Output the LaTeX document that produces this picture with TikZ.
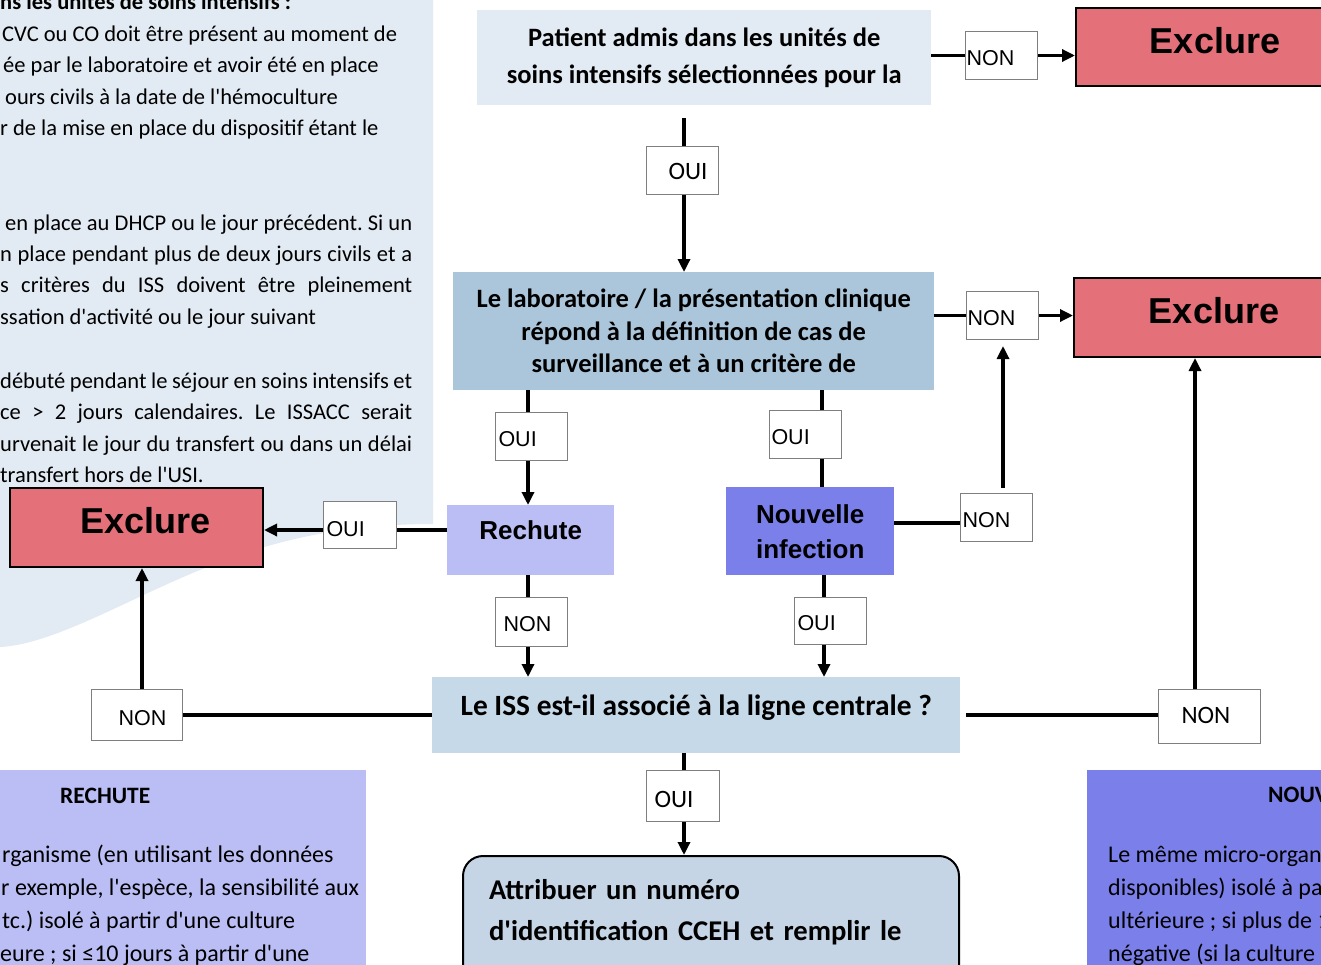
\documentclass[tikz,border=0pt]{standalone}
\usepackage{fontspec}
\setmainfont{Carlito}[Ligatures=TeXOff]
\newfontfamily\arialfont{Liberation Sans}
\frenchspacing
\usetikzlibrary{arrows.meta}
\definecolor{panelbg}{HTML}{E2EAF3}
\definecolor{qlight}{HTML}{E2EAF3}
\definecolor{qmid}{HTML}{ABC6DB}
\definecolor{qiss}{HTML}{C6D9E8}
\definecolor{qfinal}{HTML}{C5D5E6}
\definecolor{exclred}{HTML}{E4707A}
\definecolor{rechfill}{HTML}{BBBEF5}
\definecolor{nouvfill}{HTML}{7B7FEA}
\definecolor{taggray}{HTML}{7F7F7F}
\tikzset{
  flownode/.style = {anchor=north west, inner sep=0pt, align=center},
  QNode/.style = {flownode, font=\bfseries\fontsize{26.5}{32.5}\selectfont},
  ExclNode/.style = {flownode, draw=black, line width=2pt, fill=exclred, text depth=14pt, font=\arialfont\bfseries\fontsize{36}{36}\selectfont},
  CaseNode/.style = {flownode, font=\arialfont\bfseries\fontsize{26}{35}\selectfont},
  TagNode/.style = {flownode, draw=taggray, line width=1pt, fill=white, inner xsep=1pt, align=left, text height=19pt, text depth=0pt, font=\arialfont\fontsize{21.5}{21.5}\selectfont},
  CTagNode/.style = {TagNode, text height=18pt, font=\fontsize{25}{25}\selectfont},
  PanelText/.style = {inner sep=0pt, anchor=base west, font=\fontsize{22.5}{22.5}\selectfont},
  PanelTextL/.style = {PanelText, font=\fontsize{24}{24}\selectfont},
  PanelHead/.style = {PanelText, font=\bfseries\fontsize{23.5}{23.5}\selectfont},
  conn/.style = {line width=3.2pt}
}
\begin{document}
\begin{tikzpicture}[x=1pt, y=-1pt, >={Triangle[length=13pt,width=12pt]}]
\useasboundingbox (0,0) rectangle (1321,964);
\clip (0,0) rectangle (1321,964);
% background panels
\fill[panelbg] (0,0) -- (433,0) -- (433,524) .. controls (300,524) and (220,560) .. (150,592)
  .. controls (90,620) and (40,645) .. (0,647) -- cycle;
\fill[rechfill] (0,770) rectangle (366,1000);
\fill[nouvfill] (1087,770) rectangle (1400,1000);

% text of the left panel
\node[PanelText] (lt0) at (0,9) {\bfseries ns les unités de soins intensifs :};
\node[PanelText] (lt1) at (2,41) {CVC ou CO doit être présent au moment de};
\node[PanelText] (lt2) at (3,72.5) {ée par le laboratoire et avoir été en place};
\node[PanelText] (lt3) at (5,104) {ours civils à la date de l'hémoculture};
\node[PanelText] (lt4) at (0,135.5) {r de la mise en place du dispositif étant le};
\node[PanelText] (lt5) at (5,230) {\makebox[407pt][s]{en place au DHCP ou le jour précédent. Si un}};
\node[PanelText] (lt6) at (0,261) {\makebox[412pt][s]{n place pendant plus de deux jours civils et a}};
\node[PanelText] (lt7) at (0,292.5) {\makebox[412pt][s]{s critères du ISS doivent être pleinement}};
\node[PanelText] (lt8) at (0,324) {ssation d'activité ou le jour suivant};
\node[PanelText] (lt9) at (0,388) {\makebox[412pt][s]{débuté pendant le séjour en soins intensifs et}};
\node[PanelText] (lt10) at (0,419.5) {\makebox[412pt][s]{ce > 2 jours calendaires. Le ISSACC serait}};
\node[PanelText] (lt11) at (0,451) {\makebox[412pt][s]{urvenait le jour du transfert ou dans un délai}};
\node[PanelText] (lt12) at (0,482) {transfert hors de l'USI.};

% bottom panels
\node[PanelHead] (rt0) at (60,803) {RECHUTE};
\node[PanelTextL] (rt1) at (2,862) {rganisme (en utilisant les données};
\node[PanelTextL] (rt2) at (1,895) {r exemple, l'espèce, la sensibilité aux};
\node[PanelTextL] (rt3) at (2,928) {tc.) isolé à partir d'une culture};
\node[PanelTextL] (rt4) at (0,961) {eure ; si ≤10 jours à partir d'une};
\node[PanelHead] (nt0) at (1268,802) {NOUV};
\node[PanelTextL] (nt1) at (1108,862) {Le même micro-organ};
\node[PanelTextL] (nt2) at (1108,895) {disponibles) isolé à pa};
\node[PanelTextL] (nt3) at (1108,928) {ultérieure ; si plus de 1};
\node[PanelTextL] (nt4) at (1108,961) {négative (si la culture};

% flow boxes
\node[QNode, fill=qlight, minimum width=454pt, minimum height=95pt,
  font=\bfseries\fontsize{26.5}{37}\selectfont] (box1) at (477,10)
  {Patient admis dans les unités de\\soins intensifs sélectionnées pour la};
\node[QNode, fill=qmid, minimum width=481pt, minimum height=118pt] (box2) at (453,272)
  {Le laboratoire / la présentation clinique\\répond à la définition de cas de\\surveillance et à un critère de};
\node[QNode, fill=qiss, minimum width=528pt, minimum height=76pt, text depth=21pt,
  font=\bfseries\fontsize{29.4}{29.4}\selectfont] (iss) at (432,677)
  {Le ISS est-il associé à la ligne centrale ?};
\node[QNode, fill=qfinal, draw=black, line width=2pt, rounded corners=20pt, align=left,
  text width=444pt, inner xsep=26pt, inner ysep=23pt, text depth=90pt,
  font=\bfseries\fontsize{28.6}{41}\selectfont] (final) at (462,855)
  {Attribuer un numéro\\d'identification CCEH et remplir le};

\node[ExclNode, minimum width=278pt, minimum height=78pt] (excl1) at (1075,7) {Exclure};
\node[ExclNode, minimum width=280pt, minimum height=79pt] (excl2) at (1073,277) {Exclure};
\node[ExclNode, minimum width=253pt, minimum height=79pt] (excl3) at (9,487) {\hspace{18pt}Exclure};

\node[CaseNode, fill=rechfill, minimum width=167pt, minimum height=70pt, text depth=20pt] (rech) at (447,505) {Rechute};
\node[CaseNode, fill=nouvfill, minimum width=168pt, minimum height=88pt] (nouv) at (726,487) {Nouvelle\\infection};

% answer tags
\node[TagNode, text width=70pt, minimum height=48pt] (non1) at (965,31) {NON};
\node[TagNode, text width=70pt, minimum height=48pt] (non2) at (966,291) {NON};
\node[TagNode, text width=70pt, minimum height=48pt] (non3) at (960,493) {\hspace*{1pt}NON};
\node[TagNode, text width=70pt, minimum height=48pt] (oui2) at (495,412) {\hspace*{2pt}OUI};
\node[TagNode, text width=70pt, minimum height=48pt] (oui3) at (769,410) {\hspace*{1pt}OUI};
\node[TagNode, text width=70pt, minimum height=47pt] (oui4) at (794,597) {\hspace*{2pt}OUI};
\node[TagNode, text width=71pt, minimum height=47pt, text height=22pt] (ouiL) at (323,501) {\hspace*{2pt}OUI};
\node[TagNode, text width=70pt, minimum height=49pt] (non6) at (495,597) {\hspace*{7pt}NON};
\node[TagNode, text width=89pt, minimum height=51pt, text height=21pt] (non5) at (91,689) {\hspace*{26pt}NON};
\node[CTagNode, text width=70pt, minimum height=48pt] (oui1) at (646,146) {\hspace*{21pt}OUI};
\node[CTagNode, text width=100pt, minimum height=54pt, text height=14pt] (non4) at (1158,689) {\hspace*{22pt}NON};
\node[CTagNode, text width=71pt, minimum height=51pt, text height=23pt] (oui5) at (646,770) {\hspace*{7pt}OUI};

% columns and rows of the connectors
\coordinate (colA) at (684,0);
\coordinate (colB) at (528,0);
\coordinate (colC) at (822,0);
\coordinate (colD) at (824,0);
\coordinate (colE) at (1003,0);
\coordinate (colF) at (1195,0);
\coordinate (colG) at (142,0);
\coordinate (rowA) at (0,530);
\coordinate (rowB) at (0,523);
\coordinate (rowC) at (0,715);

% connectors
\draw[conn] (non1.west -| box1.east) -- (non1.west);
\draw[conn,->] (non1.east) -- (non1.east -| excl1.west);
\draw[conn, shorten <=13pt] (box1.south -| colA) -- (oui1.north -| colA);
\draw[conn,->] (oui1.south -| colA) -- (box2.north -| colA);
\draw[conn] (non2.west -| box2.east) -- (non2.west);
\draw[conn,->] (non2.east) -- (non2.east -| excl2.west);
\draw[conn] (box2.south -| colB) -- (oui2.north -| colB);
\draw[conn,->] (oui2.south -| colB) -- (rech.north -| colB);
\draw[conn] (box2.south -| colC) -- (oui3.north -| colC);
\draw[conn] (oui3.south -| colC) -- (nouv.north -| colC);
\draw[conn] (rech.west |- rowA) -- (ouiL.east |- rowA);
\draw[conn,->] (ouiL.west |- rowA) -- (excl3.east |- rowA);
\draw[conn] (nouv.east |- rowB) -- (non3.west |- rowB);
\draw[conn,->,shorten <=5pt,shorten >=6pt] (non3.north -| colE) -- (non2.south -| colE);
\draw[conn] (rech.south -| colB) -- (non6.north -| colB);
\draw[conn,->] (non6.south -| colB) -- (iss.north -| colB);
\draw[conn] (nouv.south -| colD) -- (oui4.north -| colD);
\draw[conn,->] (oui4.south -| colD) -- (iss.north -| colD);
\draw[conn, shorten <=6pt] (iss.east |- rowC) -- (non4.west |- rowC);
\draw[conn,->] (non4.north -| colF) -- (excl2.south -| colF);
\draw[conn] (iss.west |- rowC) -- (non5.east |- rowC);
\draw[conn,->] (non5.north -| colG) -- (excl3.south -| colG);
\draw[conn] (iss.south -| colA) -- (oui5.north -| colA);
\draw[conn,->] (oui5.south -| colA) -- (final.north -| colA);
\end{tikzpicture}
\end{document}
